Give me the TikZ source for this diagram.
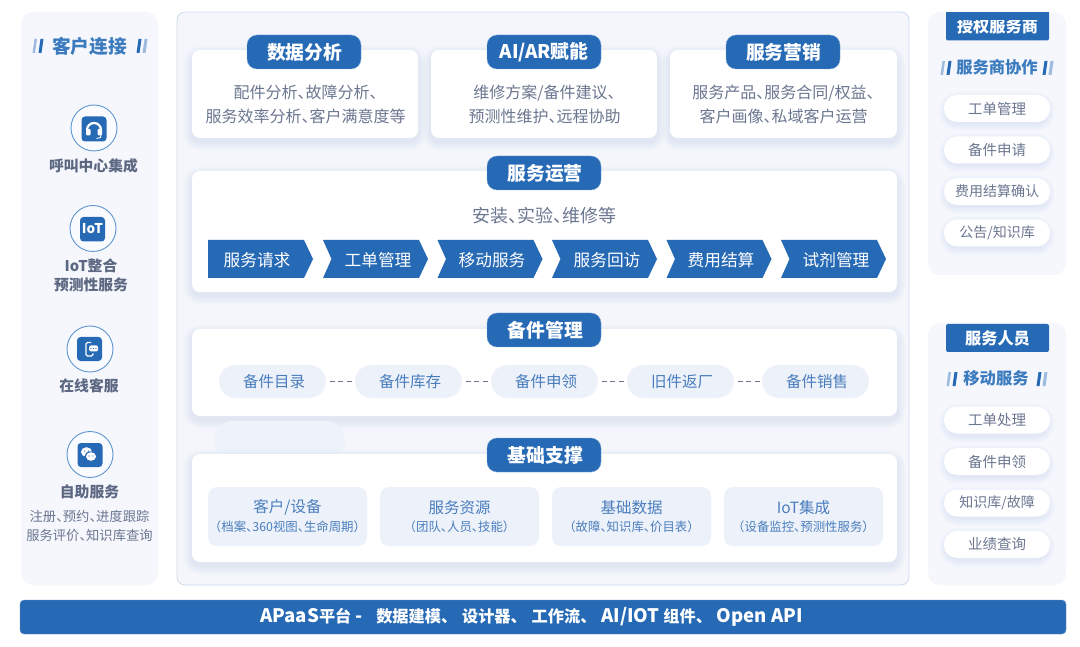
\documentclass[tikz,border=0pt]{standalone}
\usepackage{fontspec}
\setmainfont{Noto Sans CJK SC}
\usetikzlibrary{calc}
\catcode`、=\active
\protected\def、{\hbox to .5em{\char"3001\hss}}
\definecolor{brand}{HTML}{2669B5}
\definecolor{panelbg}{HTML}{F5F7FD}
\definecolor{midbg}{HTML}{F4F6FB}
\definecolor{midline}{HTML}{CFDCF0}
\definecolor{pillbg}{HTML}{EDF2FA}
\definecolor{shadowc}{HTML}{B9CCE6}
\definecolor{graytxt}{HTML}{6B7690}
\definecolor{darktxt}{HTML}{5C6882}
\definecolor{bluetxt}{HTML}{4A7DBD}
\definecolor{headtxt}{HTML}{3C7CBE}
\definecolor{ringc}{HTML}{5E96CF}
\newcommand{\softbox}[5]{% x1 y1 x2 y2 radius
  \foreach \s in {8,7,...,1}{
    \fill[shadowc,opacity=.04,rounded corners={#5+\s*1pt}] (#1-\s,#2+4-\s) rectangle (#3+\s,#4+4+\s);
  }}
\newcommand{\hbars}[2]{% x y: two slanted bars
  \fill[brand!45!white] (#1-4.5,#2+7) -- (#1-2,#2+7) -- (#1+0,#2-7) -- (#1-2.5,#2-7) -- cycle;
  \fill[brand] (#1+1.5,#2+7) -- (#1+4.5,#2+7) -- (#1+6.5,#2-7) -- (#1+3.5,#2-7) -- cycle;}
\newcommand{\hbarsR}[2]{%
  \fill[brand] (#1-4.5,#2+7) -- (#1-1.5,#2+7) -- (#1+0.5,#2-7) -- (#1-2.5,#2-7) -- cycle;
  \fill[brand!45!white] (#1+1.5,#2+7) -- (#1+4.5,#2+7) -- (#1+6.5,#2-7) -- (#1+3.5,#2-7) -- cycle;}
\newcommand{\bannerL}[1]{{\fontsize{18.6}{18}\selectfont #1}}
\newcommand{\bannerS}{\hbox to 21pt{\char"3001\hss}}
\tikzset{
  x=1pt,y=-1pt,
  every node/.style={inner sep=0pt,outer sep=0pt,align=center},
  panel/.style={fill=panelbg,rounded corners=12pt},
  card/.style={fill=white,rounded corners=8pt},
  titlepill/.style={fill=brand,draw=brand!60!white,line width=.4pt,rounded corners=10pt,text=white,font=\bfseries\fontsize{18.8}{18.8}\selectfont,minimum width=114pt,minimum height=34pt},
  chevtxt/.style={text=white,font=\fontsize{16.7}{16.7}\selectfont},
  bodytxt/.style={text=graytxt,font=\fontsize{16}{24.5}\selectfont},
  sidehead/.style={text=headtxt,font=\bfseries\fontsize{16.3}{16.3}\selectfont},
  iconlabel/.style={text=darktxt,font=\bfseries\fontsize{14.8}{19}\selectfont},
  ring/.style={circle,draw=ringc,line width=.9pt,fill=panelbg!50!white,minimum size=46pt},
  sidepill/.style={fill=white,rounded corners=13pt,minimum width=106pt,minimum height=27pt,text=graytxt,font=\fontsize{14.5}{14.5}\selectfont},
  partpill/.style={fill=pillbg,rounded corners=16.5pt,minimum width=107pt,minimum height=33pt,text=bluetxt,font=\fontsize{15.5}{15.5}\selectfont},
  basebox/.style={fill=pillbg,rounded corners=9pt,minimum width=159pt,minimum height=59pt},
  dashlink/.style={draw=graytxt,line width=1pt,dash pattern=on 5pt off 3.5pt},
  iconsq/.style={fill=brand,rounded corners=3.5pt},
  sidetitle/.style={fill=brand,minimum width=103pt,minimum height=28pt,rounded corners=2pt,text=white,font=\bfseries\fontsize{16.2}{16.2}\selectfont},
}
\begin{document}
\begin{tikzpicture}
\useasboundingbox (0,0) rectangle (1080,647);
\fill[white] (0,0) rectangle (1080,647);
% panels
\fill[panel] (21,12) rectangle (158,585);
\fill[panel] (928,12) rectangle (1066,275);
\fill[panel] (928,323) rectangle (1066,585);
\filldraw[fill=midbg,draw=midline,line width=.8pt,rounded corners=8pt] (177,12) rectangle (909,585);
% bottom bar
\node[fill=brand,draw=brand!70!white,line width=.4pt,rounded corners=4pt,minimum width=1046pt,minimum height=34pt,text=white,font=\bfseries\fontsize{16.2}{16.2}\selectfont] (apaas) at (543,617) {\hspace*{-23pt}\bannerL{APaaS}平台\ \bannerL{-}\hspace{14pt}数据建模\bannerS 设计器\bannerS 工作流\bannerS\bannerL{AI/IOT} 组件\bannerS\bannerL{Open API}};
% left panel
\node[sidehead,font=\bfseries\fontsize{18.7}{18.7}\selectfont] (lhead) at (89.5,46) {客户连接};
\hbars{37}{46}\hbarsR{141}{46}
\node[ring] (r1) at (94,128) {};
\node[ring] (r2) at (93,228.5) {};
\node[ring] (r3) at (90,349) {};
\node[ring] (r4) at (90,454.5) {};
\fill[iconsq] (81.5,116.5) rectangle (106.5,141.5);
\fill[iconsq] (80,217) rectangle (105,241.5);
\fill[iconsq] (77,337) rectangle (102,361);
\fill[iconsq] (77.5,443) rectangle (102.5,467);
% headset
\draw[white,line width=2.2pt] (87,130) arc[start angle=180,end angle=360,radius=7];
\fill[white,rounded corners=1pt] (86,129) rectangle (90.5,135.5);
\fill[white,rounded corners=1pt] (97.5,129) rectangle (102,135.5);
\draw[white,line width=.9pt] (101,135) -- (100.5,137.5) -- (96.5,138.5);
% IoT
\node[text=white,font=\bfseries\fontsize{13.5}{13.5}\selectfont] (iot) at (92.5,229) {IoT};
% phone chat
\draw[white,line width=1.4pt,rounded corners=1.5pt] (91,342.5) -- (86,342.5) -- (86,356) -- (93,356) -- (93,353.5);
\fill[white,rounded corners=1.5pt] (89,345.5) rectangle (98,351.5);
\foreach \x in {91,93.5,96}{\fill[brand] (\x,348.5) circle (.6);}
% wechat
\fill[white] (86.5,452) ellipse (5.5 and 4.8);
\fill[brand] (90.5,456.5) ellipse (6 and 5.2);
\fill[white] (91,456.5) ellipse (5 and 4.3);
\foreach \p in {(84.5,451),(88.5,451),(89,456),(93,456)}{\fill[brand] \p circle (.7);}
\node[iconlabel] (l1) at (93.5,166) {呼叫中心集成};
\node[iconlabel] (l2) at (91,275) {IoT整合\\预测性服务};
\node[iconlabel] (l3) at (89,386) {在线客服};
\node[iconlabel] (l4) at (89.5,492) {自助服务};
\node[text=graytxt,font=\fontsize{13.3}{19.5}\selectfont] (l5) at (89.5,526) {注册、预约、进度跟踪\\服务评价、知识库查询};
% right panel 1
\node[sidetitle] (rt1) at (997.5,26.5) {授权服务商};
\fill[brand] (946,12) rectangle (1049,20);
\node[sidehead] (rh1) at (997,67.5) {服务商协作};
\hbars{945}{68}\hbarsR{1047}{68}
\foreach \yy/\tx/\nm in {108.5/工单管理/a,150/备件申请/b,191.5/{\fontsize{14}{14}\selectfont 费用结算确认}/c,233/{\fontsize{14}{14}\selectfont 公告\slash 知识库}/d}{
  \softbox{944+3}{\yy-13.5+1}{1050-3}{\yy+13.5-3}{11}
  \node[sidepill] (s\nm) at (997,\yy) {\tx};
}
% right panel 2
\node[sidetitle] (rt2) at (997.5,338) {服务人员};
\node[sidehead] (rh2) at (996,378.5) {移动服务};
\hbars{951}{379}\hbarsR{1041}{379}
\foreach \yy/\tx/\nm in {420/工单处理/e,461.5/备件申领/f,503/{\fontsize{14}{14}\selectfont 知识库\slash 故障}/g,544.5/业绩查询/h}{
  \softbox{944+3}{\yy-13.5+1}{1050-3}{\yy+13.5-3}{11}
  \node[sidepill] (s\nm) at (997,\yy) {\tx};
}
% top cards
\softbox{192}{50}{418}{138}{8}\softbox{431}{50}{657}{138}{8}\softbox{670}{50}{897}{138}{8}
\fill[card] (192,50) rectangle (418,138);
\fill[card] (431,50) rectangle (657,138);
\fill[card] (670,50) rectangle (897,138);
\node[titlepill] (t1) at (304,52) {\hspace*{1.5pt}数据分析};
\node[titlepill] (t2) at (544,52) {AI/AR赋能};
\node[titlepill] (t3) at (783,52) {\hspace*{1.5pt}服务营销};
\node[bodytxt] (b1) at (305.5,104.5) {配件分析、故障分析、\\服务效率分析、客户满意度等};
\node[bodytxt] (b2) at (544.5,104.5) {维修方案/备件建议、\\预测性维护、远程协助};
\node[bodytxt] (b3) at (783.5,104.5) {服务产品、服务合同/权益、\\客户画像、私域客户运营};
% ops card
\softbox{192}{171}{897}{292}{8}
\fill[card] (192,171) rectangle (897,292);
\node[titlepill] (t4) at (544,173) {\hspace*{2pt}服务运营};
\node[bodytxt,font=\fontsize{18}{18}\selectfont] (b4) at (544,215.5) {安装、实验、维修等};
\fill[brand] (208,240) -- (304,240) -- (313,259) -- (304,278) -- (208,278) -- cycle;
\foreach \xx in {323,437.5,552,666.5,781}{
  \fill[brand] (\xx,240) -- (\xx+96,240) -- (\xx+105,259) -- (\xx+96,278) -- (\xx,278) -- (\xx+8.5,259) -- cycle;
}
\node[chevtxt] (c1) at (257,260) {服务请求};
\node[chevtxt] (c2) at (378,260) {工单管理};
\node[chevtxt] (c3) at (492,260) {移动服务};
\node[chevtxt] (c4) at (607,260) {服务回访};
\node[chevtxt] (c5) at (721,260) {费用结算};
\node[chevtxt] (c6) at (836,260) {试剂管理};
% parts card
\softbox{192}{329}{897}{416}{8}
\fill[card] (192,329) rectangle (897,416);
\node[titlepill] (t5) at (544,330) {\hspace*{3pt}备件管理};
\node[partpill] (p1) at (272.5,381.5) {\hspace*{3pt}备件目录};
\node[partpill] (p2) at (408.5,381.5) {\hspace*{3pt}备件库存};
\node[partpill] (p3) at (544.5,381.5) {\hspace*{3pt}备件申领};
\node[partpill] (p4) at (680.5,381.5) {\hspace*{3pt}旧件返厂};
\node[partpill] (p5) at (815.5,381.5) {\hspace*{3pt}备件销售};
\draw[dashlink] ([xshift=3.5pt]p1.east) -- ([xshift=-2pt]p2.west);
\draw[dashlink] ([xshift=3.5pt]p2.east) -- ([xshift=-2pt]p3.west);
\draw[dashlink] ([xshift=3.5pt]p3.east) -- ([xshift=-2pt]p4.west);
\draw[dashlink] ([xshift=3.5pt]p4.east) -- ([xshift=-2pt]p5.west);
% ghost pill
\fill[pillbg!80!midbg,rounded corners=19pt] (214,421) rectangle (345,460);
% base card
\softbox{192}{454}{897}{562}{8}
\fill[card] (192,454) rectangle (897,562);
\node[titlepill] (t6) at (544,455) {\hspace*{3pt}基础支撑};
\foreach \xx/\aa/\bb/\nm in {287.5/客户\slash 设备/（档案、360视图、生命周期）/a,459.5/服务资源/（团队、人员、技能）/b,631.5/基础数据/（故障、知识库、价目表）/c,803.5/IoT集成/（设备监控、预测性服务）/d}{
  \node[basebox] (bb\nm) at (\xx,516.5) {};
  \node[text=bluetxt,font=\fontsize{15.5}{15.5}\selectfont] (bt\nm) at (\xx,507.5) {\aa};
  \node[text=bluetxt,font=\fontsize{12.4}{12.4}\selectfont] (bs\nm) at (\xx,526.5) {\bb};
}
\end{tikzpicture}
\end{document}
